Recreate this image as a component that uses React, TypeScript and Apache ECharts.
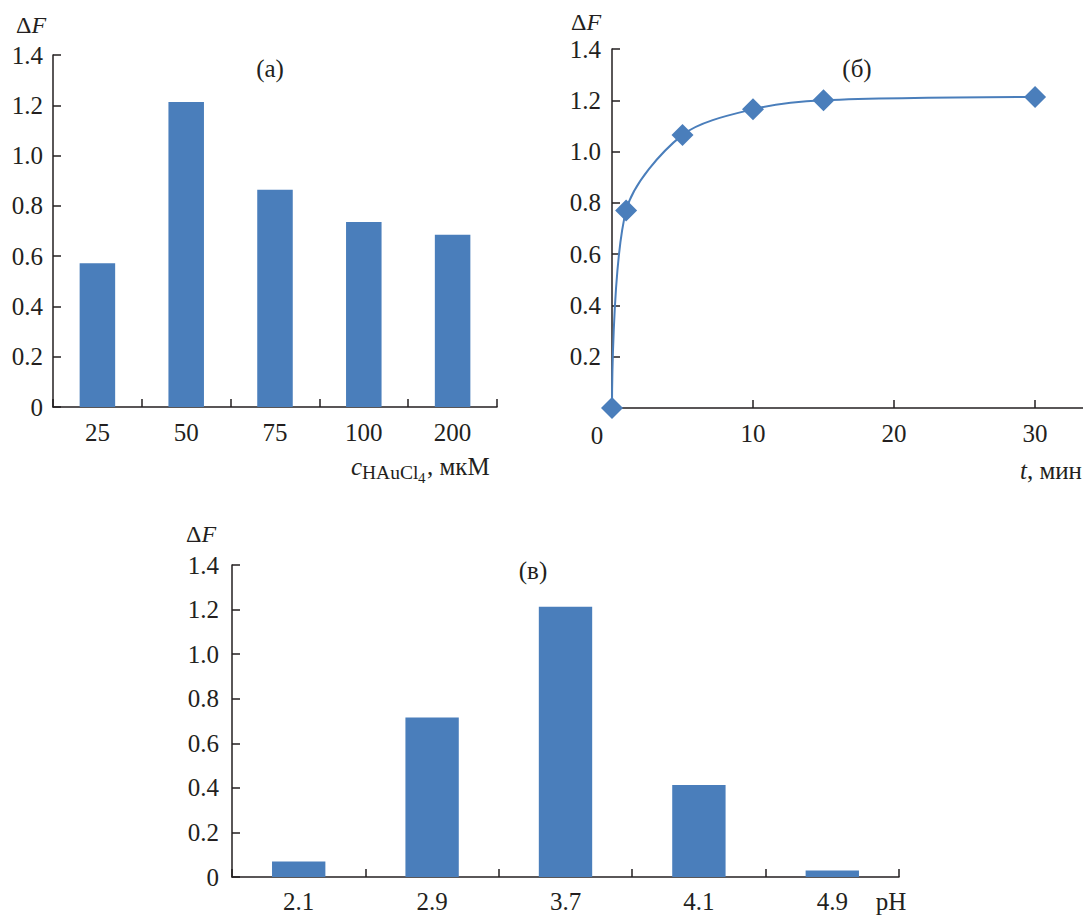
import React, { useEffect, useRef } from "react";
import * as echarts from "echarts";

// Panel (а): concentration of HAuCl4
const concCategories = ["25", "50", "75", "100", "200"];
const concValues = [0.572, 1.213, 0.864, 0.736, 0.685];

// Panel (б): time dependence
const timeValues = [0, 1, 5, 10, 15, 30];
const timeDF = [0, 0.77, 1.065, 1.165, 1.2, 1.213];

// Panel (в): pH
const phCategories = ["2.1", "2.9", "3.7", "4.1", "4.9"];
const phValues = [0.07, 0.716, 1.213, 0.413, 0.029];

const yTicks = [0, 0.2, 0.4, 0.6, 0.8, 1.0, 1.2, 1.4];

const FONT = "Liberation Serif";
const INK = "#231f20";
const BLUE = "#4a7ebb";
const FS = 25;

export default function App() {
  const ref = useRef<HTMLDivElement>(null);

  useEffect(() => {
    if (!ref.current) return;
    const chart = echarts.init(ref.current, undefined, { renderer: "svg" });

    const axisLine = { show: true, lineStyle: { color: INK, width: 1.5 } };
    const axisTick = { show: true, inside: true, length: 8, lineStyle: { color: INK, width: 1.5 } };
    const yFmt = (v: number) => (v === 0 ? "0" : v.toFixed(1));
    const yMax = yTicks[yTicks.length - 1];
    const yStep = yTicks[1] - yTicks[0];

    const mkY = (gridIndex: number, margin: number, showZero: boolean) => ({
      type: "value",
      gridIndex,
      min: yTicks[0],
      max: yMax,
      interval: yStep,
      axisLine,
      axisTick,
      splitLine: { show: false },
      axisLabel: {
        margin,
        color: INK,
        fontFamily: FONT,
        fontSize: FS,
        showMinLabel: showZero,
        formatter: yFmt,
      },
    });

    const txt = (x: number, y: number, text: string, align: string = "center", extra: any = {}) => ({
      type: "text",
      x,
      y,
      style: {
        text,
        fill: INK,
        fontFamily: FONT,
        fontSize: extra.size || FS,
        fontStyle: extra.italic ? "italic" : "normal",
        align,
        verticalAlign: extra.va || "middle",
      },
    });

    const richTxt = (x: number, y: number, text: string, align: string = "left", size: number = FS) => ({
      type: "text",
      x,
      y,
      style: {
        text,
        fill: INK,
        align,
        verticalAlign: "middle",
        rich: {
          n: { fontFamily: FONT, fontSize: size, fill: INK },
          i: { fontFamily: FONT, fontSize: size, fontStyle: "italic", fill: INK },
        },
      },
    });

    const option: any = {
      animation: false,
      backgroundColor: "#ffffff",
      textStyle: { fontFamily: FONT },
      grid: [
        { left: 53, top: 55, width: 444, height: 352 },
        { left: 612, top: 49, width: 471, height: 359 },
        { left: 232, top: 565, width: 667, height: 312 },
      ],
      xAxis: [
        {
          type: "category",
          gridIndex: 0,
          data: concCategories,
          axisLine,
          axisTick,
          axisLabel: { margin: 13, color: INK, fontFamily: FONT, fontSize: FS },
        },
        {
          type: "value",
          gridIndex: 1,
          min: 0,
          max: 33.4,
          interval: 10,
          axisLine,
          axisTick,
          splitLine: { show: false },
          axisLabel: {
            margin: 13,
            color: INK,
            fontFamily: FONT,
            fontSize: FS,
            showMaxLabel: false,
            formatter: (v: number) => (v === 0 || v % 10 !== 0 ? "" : String(v)),
          },
        },
        {
          type: "category",
          gridIndex: 2,
          data: phCategories,
          axisLine,
          axisTick,
          axisLabel: { margin: 12, color: INK, fontFamily: FONT, fontSize: FS },
        },
      ],
      yAxis: [mkY(0, 10, true), mkY(1, 11, false), mkY(2, 13, true)],
      series: [
        {
          type: "bar",
          xAxisIndex: 0,
          yAxisIndex: 0,
          data: concValues,
          barWidth: "40%",
          itemStyle: { color: BLUE },
        },
        {
          type: "line",
          xAxisIndex: 1,
          yAxisIndex: 1,
          data: timeValues.map((t, i) => [t, timeDF[i]]),
          smooth: 0.3,
          symbol: "diamond",
          symbolSize: 22,
          lineStyle: { color: BLUE, width: 2 },
          itemStyle: { color: BLUE },
        },
        {
          type: "bar",
          xAxisIndex: 2,
          yAxisIndex: 2,
          data: phValues,
          barWidth: "40%",
          itemStyle: { color: BLUE },
        },
      ],
      graphic: [
        richTxt(16, 25, "{n|Δ}{i|F}", "left", 24),
        txt(270, 68, "(а)"),
        txt(351, 466, "c", "left", { italic: true }),
        txt(362, 472, "HAuCl", "left", { size: 19.5 }),
        txt(418, 478, "4", "left", { size: 15 }),
        txt(427, 466, ", мкМ", "left"),

        richTxt(571, 22, "{n|Δ}{i|F}", "left", 24),
        txt(857, 68, "(б)"),
        txt(597, 435, "0"),
        richTxt(1082, 470, "{i|t}{n|, мин}", "right"),

        richTxt(186, 534, "{n|Δ}{i|F}", "left", 24),
        txt(533, 570, "(в)"),
        txt(891, 901, "pH"),
      ],
    };

    chart.setOption(option);
    return () => chart.dispose();
  }, []);

  return (
    <div
      ref={ref}
      style={{ position: "fixed", left: 0, top: 0, width: 1083, height: 915, background: "#fff" }}
    />
  );
}
